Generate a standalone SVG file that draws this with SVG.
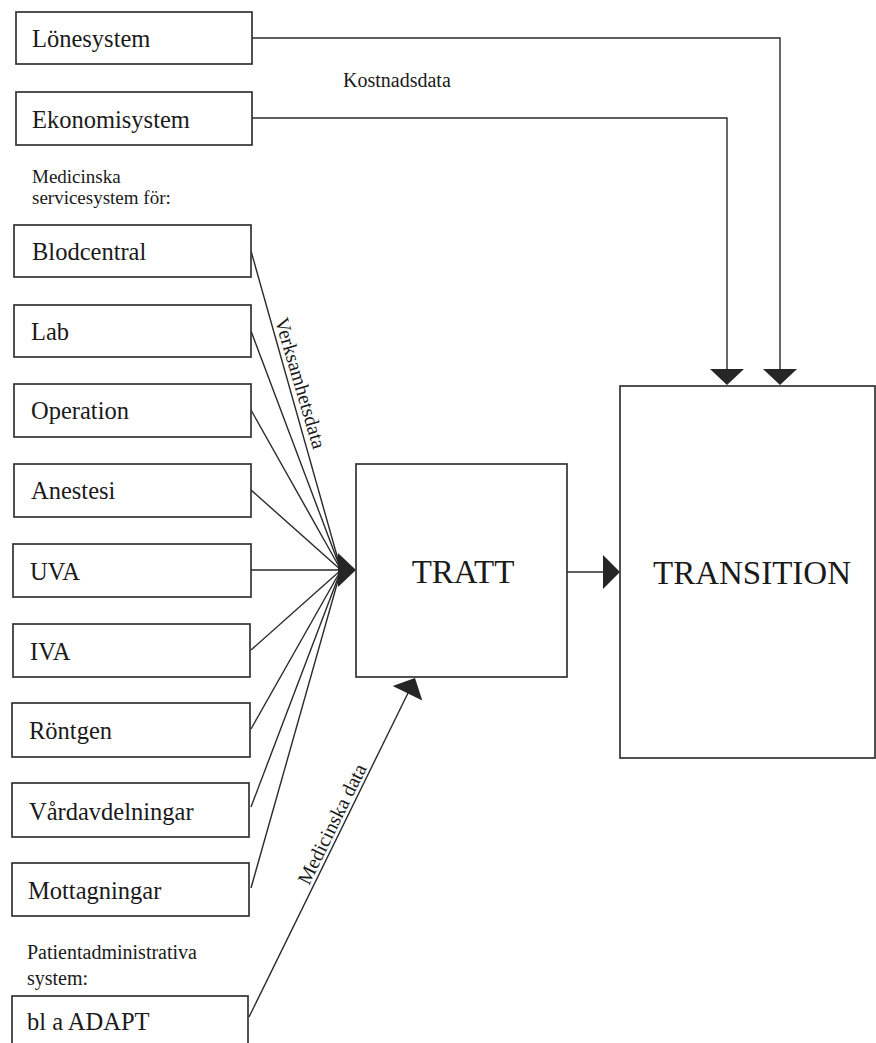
<svg xmlns="http://www.w3.org/2000/svg" width="876" height="1043" viewBox="0 0 876 1043">
<style>
.box{fill:#fff;stroke:#333;stroke-width:1.7}
.ln{fill:none;stroke:#2a2a2a;stroke-width:1.4}
.ah{fill:#262626;stroke:none}
text{font-family:'Liberation Serif','DejaVu Serif',serif;fill:#1a1a1a}
.bl{font-size:24.5px}
.sm{font-size:20px}
.xs{font-size:19px}
.big{font-size:33px}
</style>
<rect width="876" height="1043" fill="#fff"/>
<g id="connectors">
<polyline class="ln" points="252,38 780,38 780,372"/>
<polygon class="ah" points="763,369 797,369 780,385"/>
<polyline class="ln" points="252,118 727,118 727,372"/>
<polygon class="ah" points="710,369 744,369 727,385"/>
<line class="ln" x1="251" y1="251" x2="341" y2="570"/>
<line class="ln" x1="251" y1="331" x2="341" y2="570"/>
<line class="ln" x1="251" y1="410" x2="341" y2="570"/>
<line class="ln" x1="251" y1="490" x2="341" y2="570"/>
<line class="ln" x1="251" y1="570" x2="341" y2="570"/>
<line class="ln" x1="251" y1="650" x2="341" y2="570"/>
<line class="ln" x1="251" y1="729" x2="341" y2="570"/>
<line class="ln" x1="251" y1="807" x2="341" y2="570"/>
<line class="ln" x1="251" y1="888" x2="341" y2="570"/>
<polygon class="ah" points="338,553 356,570 338,587"/>
<line class="ln" x1="567" y1="572" x2="605" y2="572"/>
<polygon class="ah" points="603,555 620,572 603,589"/>
<line class="ln" x1="249" y1="1017" x2="409" y2="691"/>
<polygon class="ah" points="415,678 422.3,700.6 392.7,686"/>
<text class="sm" x="343" y="87">Kostnadsdata</text>
<text class="sm" text-anchor="middle" transform="translate(294,385) rotate(73.5)">Verksamhetsdata</text>
<text class="sm" text-anchor="middle" transform="translate(338,827) rotate(-63.8)">Medicinska data</text>
</g>
<g id="lonesystem"><rect class="box" x="16" y="12" width="236" height="52"/><text class="bl" x="32" y="47">Lönesystem</text></g>
<g id="ekonomisystem"><rect class="box" x="16" y="92" width="236" height="53"/><text class="bl" x="32" y="128">Ekonomisystem</text></g>
<g id="label-medicinska"><text class="xs" x="32" y="183">Medicinska</text><text class="xs" x="32" y="204">servicesystem för:</text></g>
<g id="blodcentral"><rect class="box" x="14" y="225" width="237" height="52"/><text class="bl" x="32" y="260">Blodcentral</text></g>
<g id="lab"><rect class="box" x="14" y="305" width="237" height="52"/><text class="bl" x="31" y="340">Lab</text></g>
<g id="operation"><rect class="box" x="14" y="384" width="237" height="53"/><text class="bl" x="31" y="419">Operation</text></g>
<g id="anestesi"><rect class="box" x="14" y="464" width="237" height="53"/><text class="bl" x="31" y="499">Anestesi</text></g>
<g id="uva"><rect class="box" x="13" y="544" width="238" height="53"/><text class="bl" x="30" y="580">UVA</text></g>
<g id="iva"><rect class="box" x="13" y="624" width="237" height="53"/><text class="bl" x="30" y="660">IVA</text></g>
<g id="rontgen"><rect class="box" x="12" y="703" width="238" height="54"/><text class="bl" x="29" y="739">Röntgen</text></g>
<g id="vardavdelningar"><rect class="box" x="12" y="783" width="237" height="54"/><text class="bl" x="29" y="820">Vårdavdelningar</text></g>
<g id="mottagningar"><rect class="box" x="12" y="863" width="237" height="53"/><text class="bl" x="28" y="899">Mottagningar</text></g>
<g id="label-patientadm"><text class="sm" x="27" y="959">Patientadministrativa</text><text class="sm" x="27" y="985">system:</text></g>
<g id="adapt"><rect class="box" x="12" y="996" width="236" height="60"/><text class="bl" x="27" y="1030">bl a ADAPT</text></g>
<g id="tratt"><rect class="box" x="356" y="464" width="211" height="213"/><text class="big" x="463" y="583" text-anchor="middle">TRATT</text></g>
<g id="transition"><rect class="box" x="620" y="386" width="255" height="372"/><text class="big" x="752" y="584" text-anchor="middle">TRANSITION</text></g>
</svg>
